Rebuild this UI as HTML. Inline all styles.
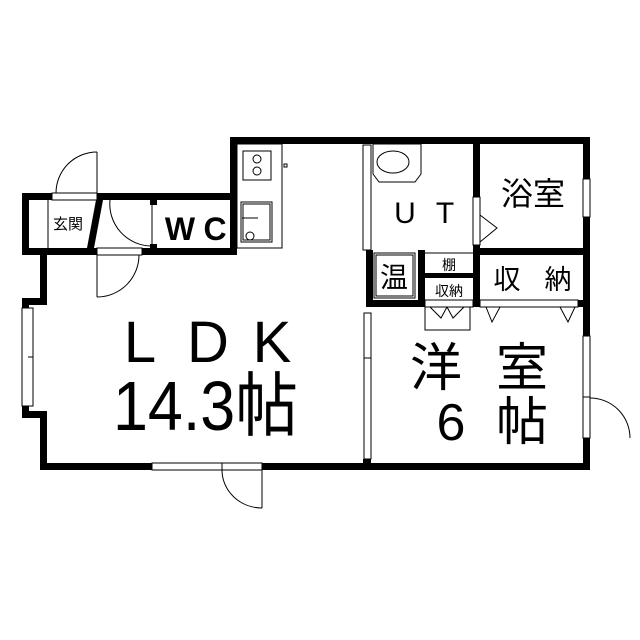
<!DOCTYPE html>
<html><head><meta charset="utf-8"><style>html,body{margin:0;padding:0;background:#fff}svg{display:block}text{font-family:"Liberation Sans","Noto Sans CJK JP",sans-serif;fill:#000}</style></head>
<body>
<svg width="640" height="640" viewBox="0 0 640 640" xmlns="http://www.w3.org/2000/svg">
<rect width="640" height="640" fill="#fff"/>
<g fill="#000">
<rect x="230" y="137" width="360" height="7"/>
<rect x="230" y="137" width="7" height="63"/>
<rect x="22" y="193" width="215" height="7"/>
<rect x="22" y="248" width="215" height="7"/>
<rect x="22" y="193" width="7" height="62"/>
<rect x="230" y="193" width="7" height="62"/>
<rect x="40" y="248" width="7" height="57"/>
<rect x="22" y="298" width="25" height="7"/>
<rect x="22" y="298" width="7" height="120"/>
<rect x="22" y="411" width="25" height="7"/>
<rect x="40" y="411" width="7" height="59"/>
<rect x="40" y="463" width="550" height="7"/>
<rect x="583" y="137" width="7" height="333"/>
<rect x="473" y="137" width="7" height="170"/>
<rect x="473" y="248" width="117" height="7"/>
<rect x="366" y="300" width="224" height="7"/>
<rect x="366" y="250" width="7" height="57"/>
<rect x="418" y="250" width="7" height="57"/>
<rect x="418" y="273" width="60" height="5"/>
<rect x="363" y="459" width="8" height="11"/>
<polygon points="96,200 103,200 94,248 87,248"/>
<rect x="150" y="200" width="7" height="5"/>
<rect x="150" y="244" width="7" height="5"/>
</g>
<g fill="#fff" stroke="#000" stroke-width="1">
<rect x="52" y="193" width="45" height="7"/>
<rect x="97" y="248" width="45" height="7"/>
<rect x="22" y="308" width="11" height="98"/>
<rect x="152" y="463" width="70" height="7"/>
<rect x="222" y="463" width="40" height="7"/>
<rect x="583" y="179" width="7" height="38"/>
<rect x="583" y="336" width="7" height="61"/>
<rect x="583" y="397" width="7" height="41"/>
<rect x="473" y="197" width="7" height="48"/>
<rect x="363" y="145" width="8" height="105"/>
<rect x="364" y="313" width="7" height="146"/>
<rect x="480" y="300" width="98" height="7"/>
<rect x="425" y="300" width="48" height="7"/>
</g>
<g fill="none" stroke="#000" stroke-width="1">
<line x1="28" y1="357" x2="33" y2="357"/>
<line x1="364" y1="358" x2="371" y2="358"/>
<line x1="97" y1="152" x2="97" y2="193"/>
<path d="M97 152 A41 41 0 0 0 56 193"/>
<line x1="97" y1="255" x2="97" y2="297"/>
<path d="M97 297 A42 42 0 0 0 139 255"/>
<line x1="152" y1="200" x2="152" y2="248"/>
<path d="M110 200 A42 42 0 0 0 152 246"/>
<line x1="262" y1="470" x2="262" y2="508"/>
<path d="M222 470 A40 38 0 0 0 262 508"/>
<path d="M590 398 A40 40 0 0 1 630 438"/>
<polyline points="480,215 497,228 480,242"/>
<line x1="48" y1="200" x2="48" y2="248"/>
<rect x="237" y="144" width="45" height="104"/>
<rect x="243" y="151" width="28" height="29"/>
<circle cx="257" cy="159" r="4"/><circle cx="257" cy="171" r="4"/>
<rect x="241" y="202" width="31" height="40"/>
<rect x="243" y="204" width="27" height="36"/>
<circle cx="250" cy="236" r="4"/>
<line x1="242" y1="218" x2="258" y2="218"/>
<rect x="284" y="164" width="3" height="3"/>
<path d="M373 144 h48 v30 l-6 8 h-36 l-6 -8 z"/>
<ellipse cx="393" cy="162" rx="16" ry="11"/>
<rect x="374" y="253" width="41" height="45"/>
<rect x="376" y="255" width="37" height="41"/>
<line x1="425" y1="253" x2="473" y2="253"/>
<rect x="425" y="307" width="45" height="23"/>
<polyline points="430,307 441,318 447,307"/>
<polyline points="447,307 453,318 464,307"/>
<polyline points="486,307 492,322 500,307"/>
<polyline points="560,307 568,322 575,307"/>
</g>
<text x="68" y="229" font-size="15" text-anchor="middle">玄関</text>
<text x="180" y="240" font-size="32" font-weight="bold" text-anchor="middle">W</text>
<text x="215" y="240" font-size="32" font-weight="bold" text-anchor="middle">C</text>
<text x="405" y="223" font-size="30" text-anchor="middle">U</text>
<text x="445" y="223" font-size="30" text-anchor="middle">T</text>
<text x="533" y="205" font-size="32" text-anchor="middle">浴室</text>
<text x="394" y="287" font-size="28" text-anchor="middle">温</text>
<text x="449" y="270" font-size="14" text-anchor="middle">棚</text>
<text x="449" y="296" font-size="14" text-anchor="middle">収納</text>
<text x="507" y="289" font-size="27" text-anchor="middle">収</text>
<text x="558" y="289" font-size="27" text-anchor="middle">納</text>
<text x="140" y="362" font-size="58" text-anchor="middle">L</text>
<text x="208" y="362" font-size="58" text-anchor="middle">D</text>
<text x="272" y="362" font-size="58" text-anchor="middle">K</text>
<text x="113" y="430" font-size="70" textLength="185" lengthAdjust="spacingAndGlyphs">14.3帖</text>
<text x="436" y="386" font-size="52" text-anchor="middle">洋</text>
<text x="522" y="386" font-size="52" text-anchor="middle">室</text>
<text x="451" y="440" font-size="52" text-anchor="middle">6</text>
<text x="522" y="440" font-size="52" text-anchor="middle">帖</text>
</svg>
</body></html>
